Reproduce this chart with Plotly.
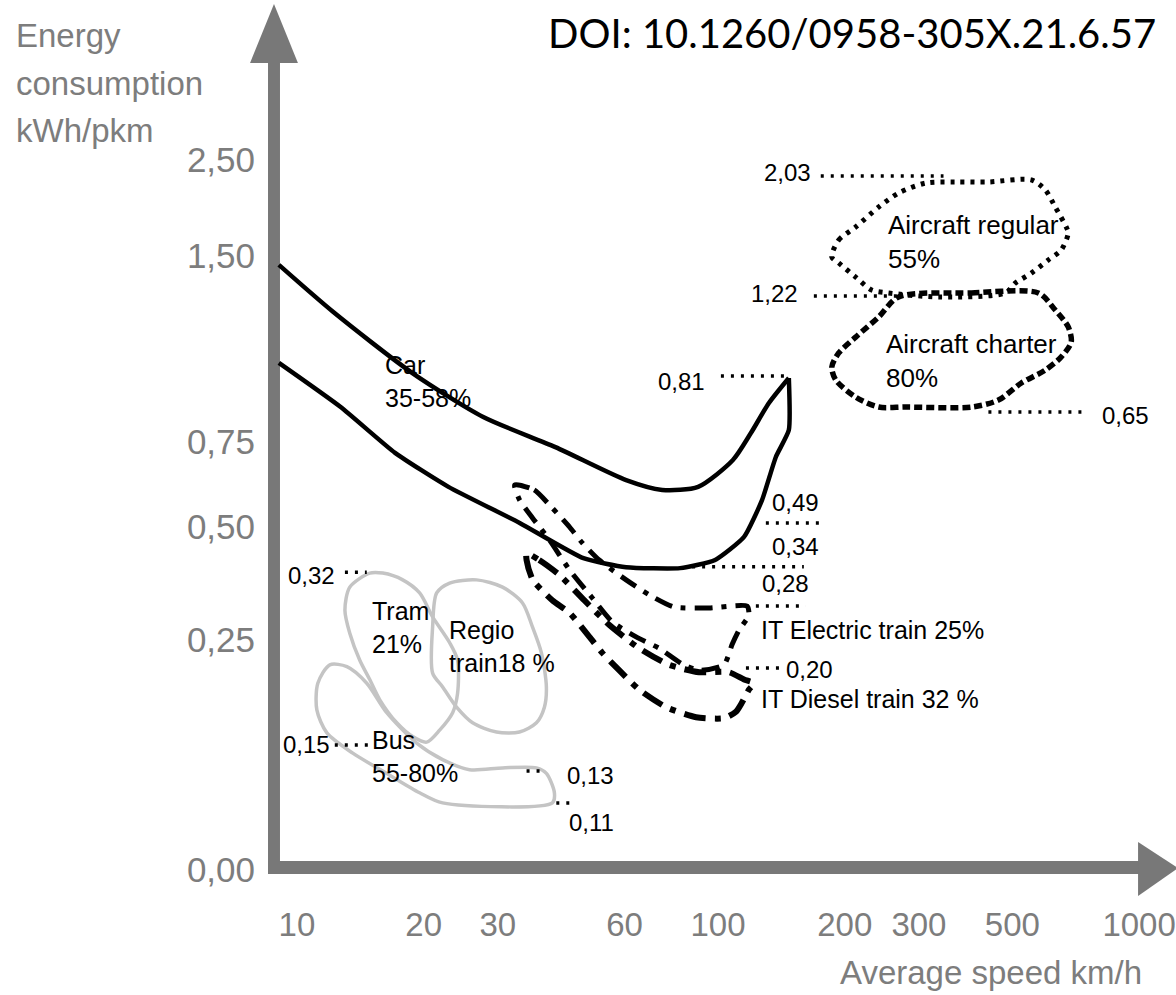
import numpy as np
import plotly.graph_objects as go

# ---------------- axis definitions ----------------
X_TICK_VALUES = [10, 20, 30, 60, 100, 200, 300, 500, 1000]
X_TICK_LABELS = ["10", "20", "30", "60", "100", "200", "300", "500", "1000"]
Y_TICK_VALUES = [0.0, 0.25, 0.50, 0.75, 1.50, 2.50]
Y_TICK_LABELS = ["0,00", "0,25", "0,50", "0,75", "1,50", "2,50"]

# ---------------- data (speed km/h, energy kWh/pkm) ----------------
CAR_UPPER_SPEED = [9.06, 12.2, 18.8, 27.7, 41.1, 60.5, 73.7, 89.7, 108.5, 119.7, 132.1, 147.3]
CAR_UPPER_ENERGY = [1.464, 1.274, 1.028, 0.851, 0.735, 0.638, 0.609, 0.618, 0.697, 0.786, 0.907, 1.008]
CAR_LOWER_SPEED = [147.3, 147.3, 137.2, 127.2, 115.3, 98.4, 81.3, 60.5, 47.9, 33.8, 22.9, 17.1, 12.7, 9.06]
CAR_LOWER_ENERGY = [1.008, 0.798, 0.706, 0.579, 0.478, 0.427, 0.409, 0.411, 0.431, 0.512, 0.618, 0.718, 0.891, 1.069]

ELEC_SPEED = [32.9, 36.6, 40.2, 44.4, 47.6, 52.2, 60.5, 68.6, 78.6, 95.2, 117.2, 118.4, 112.2,
              108.0, 103.3, 90.2, 82.2, 72.5, 63.9, 56.1, 50.3, 44.4, 39.8, 36.3, 33.8, 32.9]
ELEC_ENERGY = [0.624, 0.609, 0.559, 0.500, 0.465, 0.427, 0.383, 0.350, 0.323, 0.321, 0.325, 0.305, 0.272,
               0.245, 0.223, 0.217, 0.224, 0.241, 0.257, 0.290, 0.343, 0.405, 0.471, 0.526, 0.579, 0.624]

DIESEL_SPEED = [35.1, 37.6, 42.0, 48.1, 55.2, 65.0, 76.5, 90.2, 106.2, 115.3, 121.7, 118.4, 114.0,
                110.3, 103.3, 88.7, 75.3, 65.0, 58.3, 53.1, 49.5, 44.4, 40.4, 36.3, 35.1, 35.1]
DIESEL_ENERGY = [0.442, 0.427, 0.394, 0.338, 0.283, 0.241, 0.223, 0.215, 0.215, 0.207, 0.203, 0.196, 0.182,
                 0.172, 0.165, 0.166, 0.177, 0.196, 0.217, 0.236, 0.257, 0.310, 0.338, 0.383, 0.427, 0.442]

TRAM_SPEED = [14.89, 13.35, 13.0, 13.35, 14.10, 14.89, 15.73, 17.26, 18.83, 20.33,
              21.82, 23.43, 24.07, 24.07, 23.05, 21.0, 19.56, 17.83, 15.99, 14.89]
TRAM_ENERGY = [0.398, 0.367, 0.316, 0.265, 0.228, 0.207, 0.185, 0.160, 0.145, 0.139,
               0.152, 0.171, 0.192, 0.228, 0.247, 0.301, 0.354, 0.383, 0.398, 0.398]

REGIO_SPEED = [23.05, 21.47, 21.0, 21.0, 22.18, 23.94, 26.13, 29.79, 33.77,
               37.05, 38.70, 39.12, 38.07, 36.25, 34.33, 30.78, 26.71, 23.05]
REGIO_ENERGY = [0.376, 0.354, 0.279, 0.214, 0.199, 0.177, 0.160, 0.150, 0.150,
                0.160, 0.177, 0.199, 0.236, 0.279, 0.332, 0.367, 0.383, 0.376]

BUS_SPEED = [11.97, 11.21, 11.15, 11.78, 13.57, 16.34, 19.56, 22.18, 40.43, 40.87,
             39.12, 37.05, 30.78, 25.70, 22.18, 19.25, 16.34, 14.65, 13.14, 11.97]
BUS_ENERGY = [0.223, 0.203, 0.174, 0.149, 0.127, 0.105, 0.084, 0.073, 0.073, 0.084,
              0.105, 0.111, 0.111, 0.109, 0.120, 0.138, 0.171, 0.203, 0.221, 0.223]

AIR_REG_SPEED = [186.3, 193.5, 212.3, 240.7, 268.5, 311.1, 366.4, 438.7, 554.8, 598.8, 632.3, 671.4,
                 678.8, 653.4, 608.7, 554.8, 508.4, 481.4, 334.0, 254.2, 231.7, 212.3, 193.5, 186.3]
AIR_REG_ENERGY = [1.496, 1.667, 1.802, 2.010, 2.156, 2.260, 2.271, 2.271, 2.292, 2.188, 2.010, 1.802,
                  1.740, 1.563, 1.484, 1.431, 1.391, 1.351, 1.335, 1.351, 1.363, 1.415, 1.472, 1.496]

AIR_CH_SPEED = [268.5, 399.9, 576.4, 632.3, 678.8, 690.0, 653.4, 598.8, 525.3, 463.4,
                399.9, 278.9, 240.7, 212.3, 190.4, 186.3, 193.5, 212.3, 240.7, 268.5]
AIR_CH_ENERGY = [1.335, 1.351, 1.351, 1.282, 1.214, 1.153, 1.093, 1.040, 0.988, 0.919,
                 0.891, 0.891, 0.891, 0.931, 1.000, 1.052, 1.109, 1.173, 1.254, 1.335]

# mode labels
MODE_TEXT = ["Car<br>35-58%", "Tram<br>21%", "Regio<br>train18 %", "Bus<br>55-80%",
             "Aircraft regular<br>55%", "Aircraft charter<br>80%",
             "IT Electric train 25%", "IT Diesel train 32 %"]
MODE_SPEED = [16.0, 14.9, 22.7, 14.9, 250.1, 247.4, 125.1, 125.1]
MODE_ENERGY = [0.994, 0.278, 0.2424, 0.1234, 1.646, 1.077, 0.272, 0.186]

# value leaders (dotted lines with printed values)
LEADER_TEXT = ["2,03", "1,22", "0,81", "0,65", "0,49", "0,34", "0,28", "0,20", "0,32", "0,15", "0,13", "0,11"]
LEADER_SPEED_START = [175.4, 168.9, 101.6, 438.7, 129.9, 86.8, 123.0, 116.5, 13.0, 12.3, 35.1, 41.3]
LEADER_SPEED_END = [343.2, 268.5, 147.3, 757.0, 178.3, 159.9, 161.7, 141.1, 14.65, 15.06, 39.1, 44.4]
LEADER_ENERGY = [2.333, 1.339, 1.016, 0.871, 0.512, 0.412, 0.325, 0.2196, 0.400, 0.1359, 0.1076, 0.0728]

# ---------------- layout / style ----------------
W, H = 1176, 995
ML, MB = 272, 125
PLOT_W, PLOT_H = W - ML, H - MB
Y_TICK_POS = [0, 230, 343, 428, 614, 710]   # schematic (non-linear) energy scale
X_LOG_RANGE = [1 + (ML - 297) / 422, 1 + (W - 297) / 422]

ARIAL = "Liberation Sans, Arial, sans-serif"
GREY_TXT = "#7d7d7d"
ARROW = "#787878"


def ymap(v):
    return np.interp(np.asarray(v, dtype=float), Y_TICK_VALUES, Y_TICK_POS)


def px(xp):
    return (xp - ML) / PLOT_W


def py(yp):
    return (PLOT_H - yp) / PLOT_H


fig = go.Figure()


def outline(speed, energy, color, width, dash, smooth=0.8):
    fig.add_trace(go.Scatter(
        x=speed, y=ymap(energy), mode="lines",
        line=dict(color=color, width=width, dash=dash, shape="spline", smoothing=smooth),
        hoverinfo="skip", showlegend=False))


GREY_LINE = "#c4c4c4"
outline(TRAM_SPEED, TRAM_ENERGY, GREY_LINE, 3.5, "solid")
outline(REGIO_SPEED, REGIO_ENERGY, GREY_LINE, 3.5, "solid")
outline(BUS_SPEED, BUS_ENERGY, GREY_LINE, 3.5, "solid")
outline(CAR_UPPER_SPEED, CAR_UPPER_ENERGY, "black", 4.5, "solid", 0.7)
outline(CAR_LOWER_SPEED, CAR_LOWER_ENERGY, "black", 4.5, "solid", 0.5)
outline(ELEC_SPEED, ELEC_ENERGY, "black", 5, "18px,9px,5px,9px", 0.6)
outline(DIESEL_SPEED, DIESEL_ENERGY, "black", 6, "22px,9px,6px,9px", 0.6)
outline(AIR_REG_SPEED, AIR_REG_ENERGY, "black", 5, "4px,6px", 0.8)
outline(AIR_CH_SPEED, AIR_CH_ENERGY, "black", 5.5, "8px,4px", 0.8)

# dotted leaders
for s0, s1, e in zip(LEADER_SPEED_START, LEADER_SPEED_END, LEADER_ENERGY):
    fig.add_trace(go.Scatter(
        x=[s0, s1], y=ymap([e, e]), mode="lines",
        line=dict(color="black", width=3.5, dash="3px,7px"),
        hoverinfo="skip", showlegend=False))

annotations = []
# leader value labels: (which end, xanchor, xshift, yshift)
LEADER_LABEL_STYLE = [
    ("start", "right", -8, 4), ("start", "right", -14, 2), ("start", "right", -14, -5),
    ("end", "left", 12, -4), ("end", "right", -3, 20), ("end", "right", 17, 20),
    ("end", "right", 5, 23), ("end", "left", 3, -2), ("start", "right", -8, -3),
    ("start", "right", -3, 0), ("end", "left", 19, -4), ("start", "left", 11, -19),
]
for txt, s0, s1, e, (end, xa, xs, ys) in zip(LEADER_TEXT, LEADER_SPEED_START, LEADER_SPEED_END,
                                              LEADER_ENERGY, LEADER_LABEL_STYLE):
    s = s0 if end == "start" else s1
    annotations.append(dict(
        x=np.log10(s), y=float(ymap(e)), xref="x", yref="y", text=txt, showarrow=False,
        xanchor=xa, yanchor="middle", xshift=xs, yshift=ys,
        font=dict(family=ARIAL, size=24, color="black")))

MODE_FONT = [25, 25, 25, 25, 26, 26, 25, 25]
for txt, s, e, fs in zip(MODE_TEXT, MODE_SPEED, MODE_ENERGY, MODE_FONT):
    annotations.append(dict(
        x=np.log10(s), y=float(ymap(e)), xref="x", yref="y", text=txt, showarrow=False,
        xanchor="left", yanchor="middle", align="left",
        font=dict(family=ARIAL, size=fs, color="black")))

# axis titles and DOI
for line, yc in zip(["Energy", "consumption", "kWh/pkm"], [35, 83, 130]):
    annotations.append(dict(x=px(13), y=py(yc), xref="paper", yref="paper", text=line,
                            showarrow=False, xanchor="left", yanchor="middle",
                            font=dict(family=ARIAL, size=33, color=GREY_TXT)))
annotations.append(dict(x=px(1146), y=py(972), xref="paper", yref="paper", text="Average speed km/h",
                        showarrow=False, xanchor="right", yanchor="middle",
                        font=dict(family=ARIAL, size=33, color=GREY_TXT)))
annotations.append(dict(x=px(547), y=py(33), xref="paper", yref="paper",
                        text="DOI: 10.1260/0958-305X.21.6.57", showarrow=False,
                        xanchor="left", yanchor="middle",
                        font=dict(family="Lato, Carlito, sans-serif", size=40, color="black")))

# axis arrows
shapes = [
    dict(type="rect", xref="paper", yref="paper", x0=px(268), x1=px(280), y0=py(874), y1=py(60),
         fillcolor=ARROW, line=dict(width=0), layer="below"),
    dict(type="path", xref="paper", yref="paper",
         path=f"M {px(250)} {py(63)} L {px(298)} {py(63)} L {px(274)} {py(4)} Z",
         fillcolor=ARROW, line=dict(width=0), layer="below"),
    dict(type="rect", xref="paper", yref="paper", x0=px(268), x1=px(1142), y0=py(874), y1=py(861),
         fillcolor=ARROW, line=dict(width=0), layer="below"),
    dict(type="path", xref="paper", yref="paper",
         path=f"M {px(1140)} {py(842)} L {px(1140)} {py(896)} L {px(1180)} {py(868)} Z",
         fillcolor=ARROW, line=dict(width=0), layer="below"),
]

fig.update_layout(
    width=W, height=H, margin=dict(l=ML, r=0, t=0, b=MB),
    paper_bgcolor="white", plot_bgcolor="white",
    showlegend=False, annotations=annotations, shapes=shapes,
    xaxis=dict(type="log", range=X_LOG_RANGE, tickvals=X_TICK_VALUES, ticktext=X_TICK_LABELS,
               showgrid=False, zeroline=False, showline=False, ticks="",
               tickfont=dict(family=ARIAL, size=33, color=GREY_TXT), ticklabelstandoff=32,
               ticklabeloverflow="allow"),
    yaxis=dict(range=[0, PLOT_H], tickvals=list(ymap(Y_TICK_VALUES)), ticktext=Y_TICK_LABELS,
               showgrid=False, zeroline=False, showline=False, ticks="",
               tickfont=dict(family=ARIAL, size=35, color=GREY_TXT), ticklabelstandoff=16),
)

fig.write_html("out.html")
